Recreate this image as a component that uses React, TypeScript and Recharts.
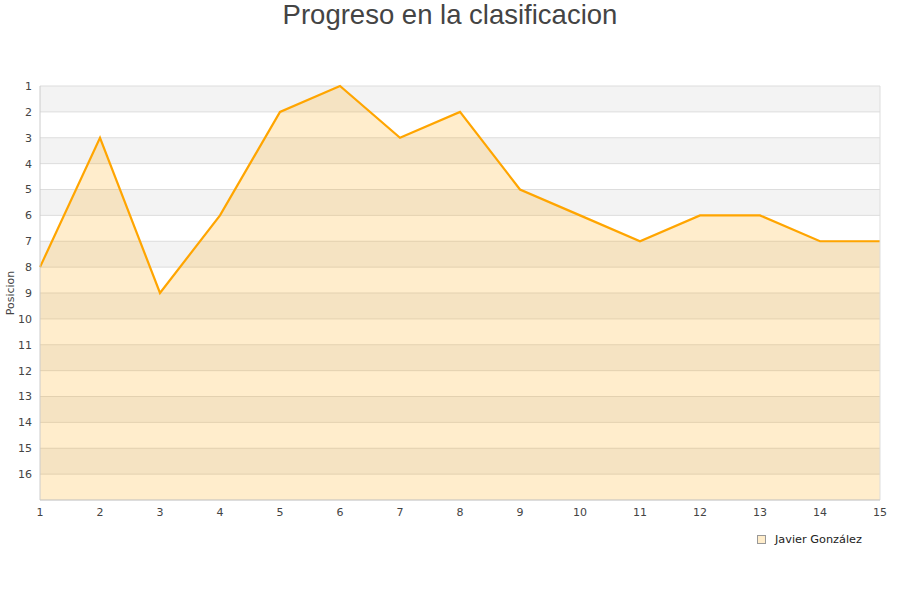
import { ComposedChart, Area, XAxis, YAxis, CartesianGrid, ReferenceLine } from "recharts";

const jornadas = [1, 2, 3, 4, 5, 6, 7, 8, 9, 10, 11, 12, 13, 14, 15];
const posiciones = [8, 3, 9, 6, 2, 1, 3, 2, 5, 6, 7, 6, 6, 7, 7];
const yTicks = [1, 2, 3, 4, 5, 6, 7, 8, 9, 10, 11, 12, 13, 14, 15, 16];
const seriesName = "Javier González";
const title = "Progreso en la clasificacion";

const data = jornadas.map((j, i) => ({ jornada: j, posicion: posiciones[i] }));

const tickStyle = { fontSize: 11, fill: "#444", fontFamily: "DejaVu Sans" };

const App = () => {
  return (
    <div style={{ position: "absolute", left: 0, top: 0, width: 900, height: 600, background: "#fff" }}>
      <div
        style={{
          position: "absolute",
          top: 0,
          left: 0,
          width: 900,
          textAlign: "center",
          fontFamily: "Liberation Sans, Arial, sans-serif",
          fontSize: 27.5,
          lineHeight: "30px",
          color: "#444",
        }}
      >
        {title}
      </div>
      <ComposedChart width={900} height={600} data={data} margin={{ top: 86, right: 20, left: 0, bottom: 70 }}>
        <CartesianGrid vertical={false} stroke="#dddddd" horizontalFill={["#f3f3f3", "#ffffff"]} fillOpacity={1} />
        <XAxis
          dataKey="jornada"
          type="number"
          domain={[1, 15]}
          ticks={jornadas}
          tick={tickStyle}
          tickLine={false}
          axisLine={{ stroke: "#cccccc" }}
          height={30}
        />
        <YAxis
          type="number"
          domain={[1, 17]}
          ticks={yTicks}
          reversed
          interval={0}
          tick={tickStyle}
          tickLine={false}
          axisLine={{ stroke: "#cccccc" }}
          width={40}
          label={{
            value: "Posicion",
            angle: -90,
            position: "insideLeft",
            offset: 10,
            style: { fontSize: 11, fill: "#444", fontFamily: "DejaVu Sans", textAnchor: "middle" },
          }}
        />
        <ReferenceLine x={15} stroke="#dddddd" />
        <Area
          type="linear"
          dataKey="posicion"
          baseValue="dataMax"
          stroke="#ffa500"
          strokeWidth={2.2}
          fill="#ffa500"
          fillOpacity={0.2}
          dot={false}
          activeDot={false}
          isAnimationActive={false}
        />
      </ComposedChart>
      <div
        style={{
          position: "absolute",
          left: 757,
          top: 533,
          display: "flex",
          alignItems: "center",
          fontFamily: "DejaVu Sans",
          fontSize: 11.3,
          color: "#222",
        }}
      >
        <span
          style={{
            display: "inline-block",
            width: 7,
            height: 7,
            border: "1px solid #999",
            background: "#ffedcb",
            marginRight: 9,
          }}
        />
        {seriesName}
      </div>
    </div>
  );
};

export default App;
